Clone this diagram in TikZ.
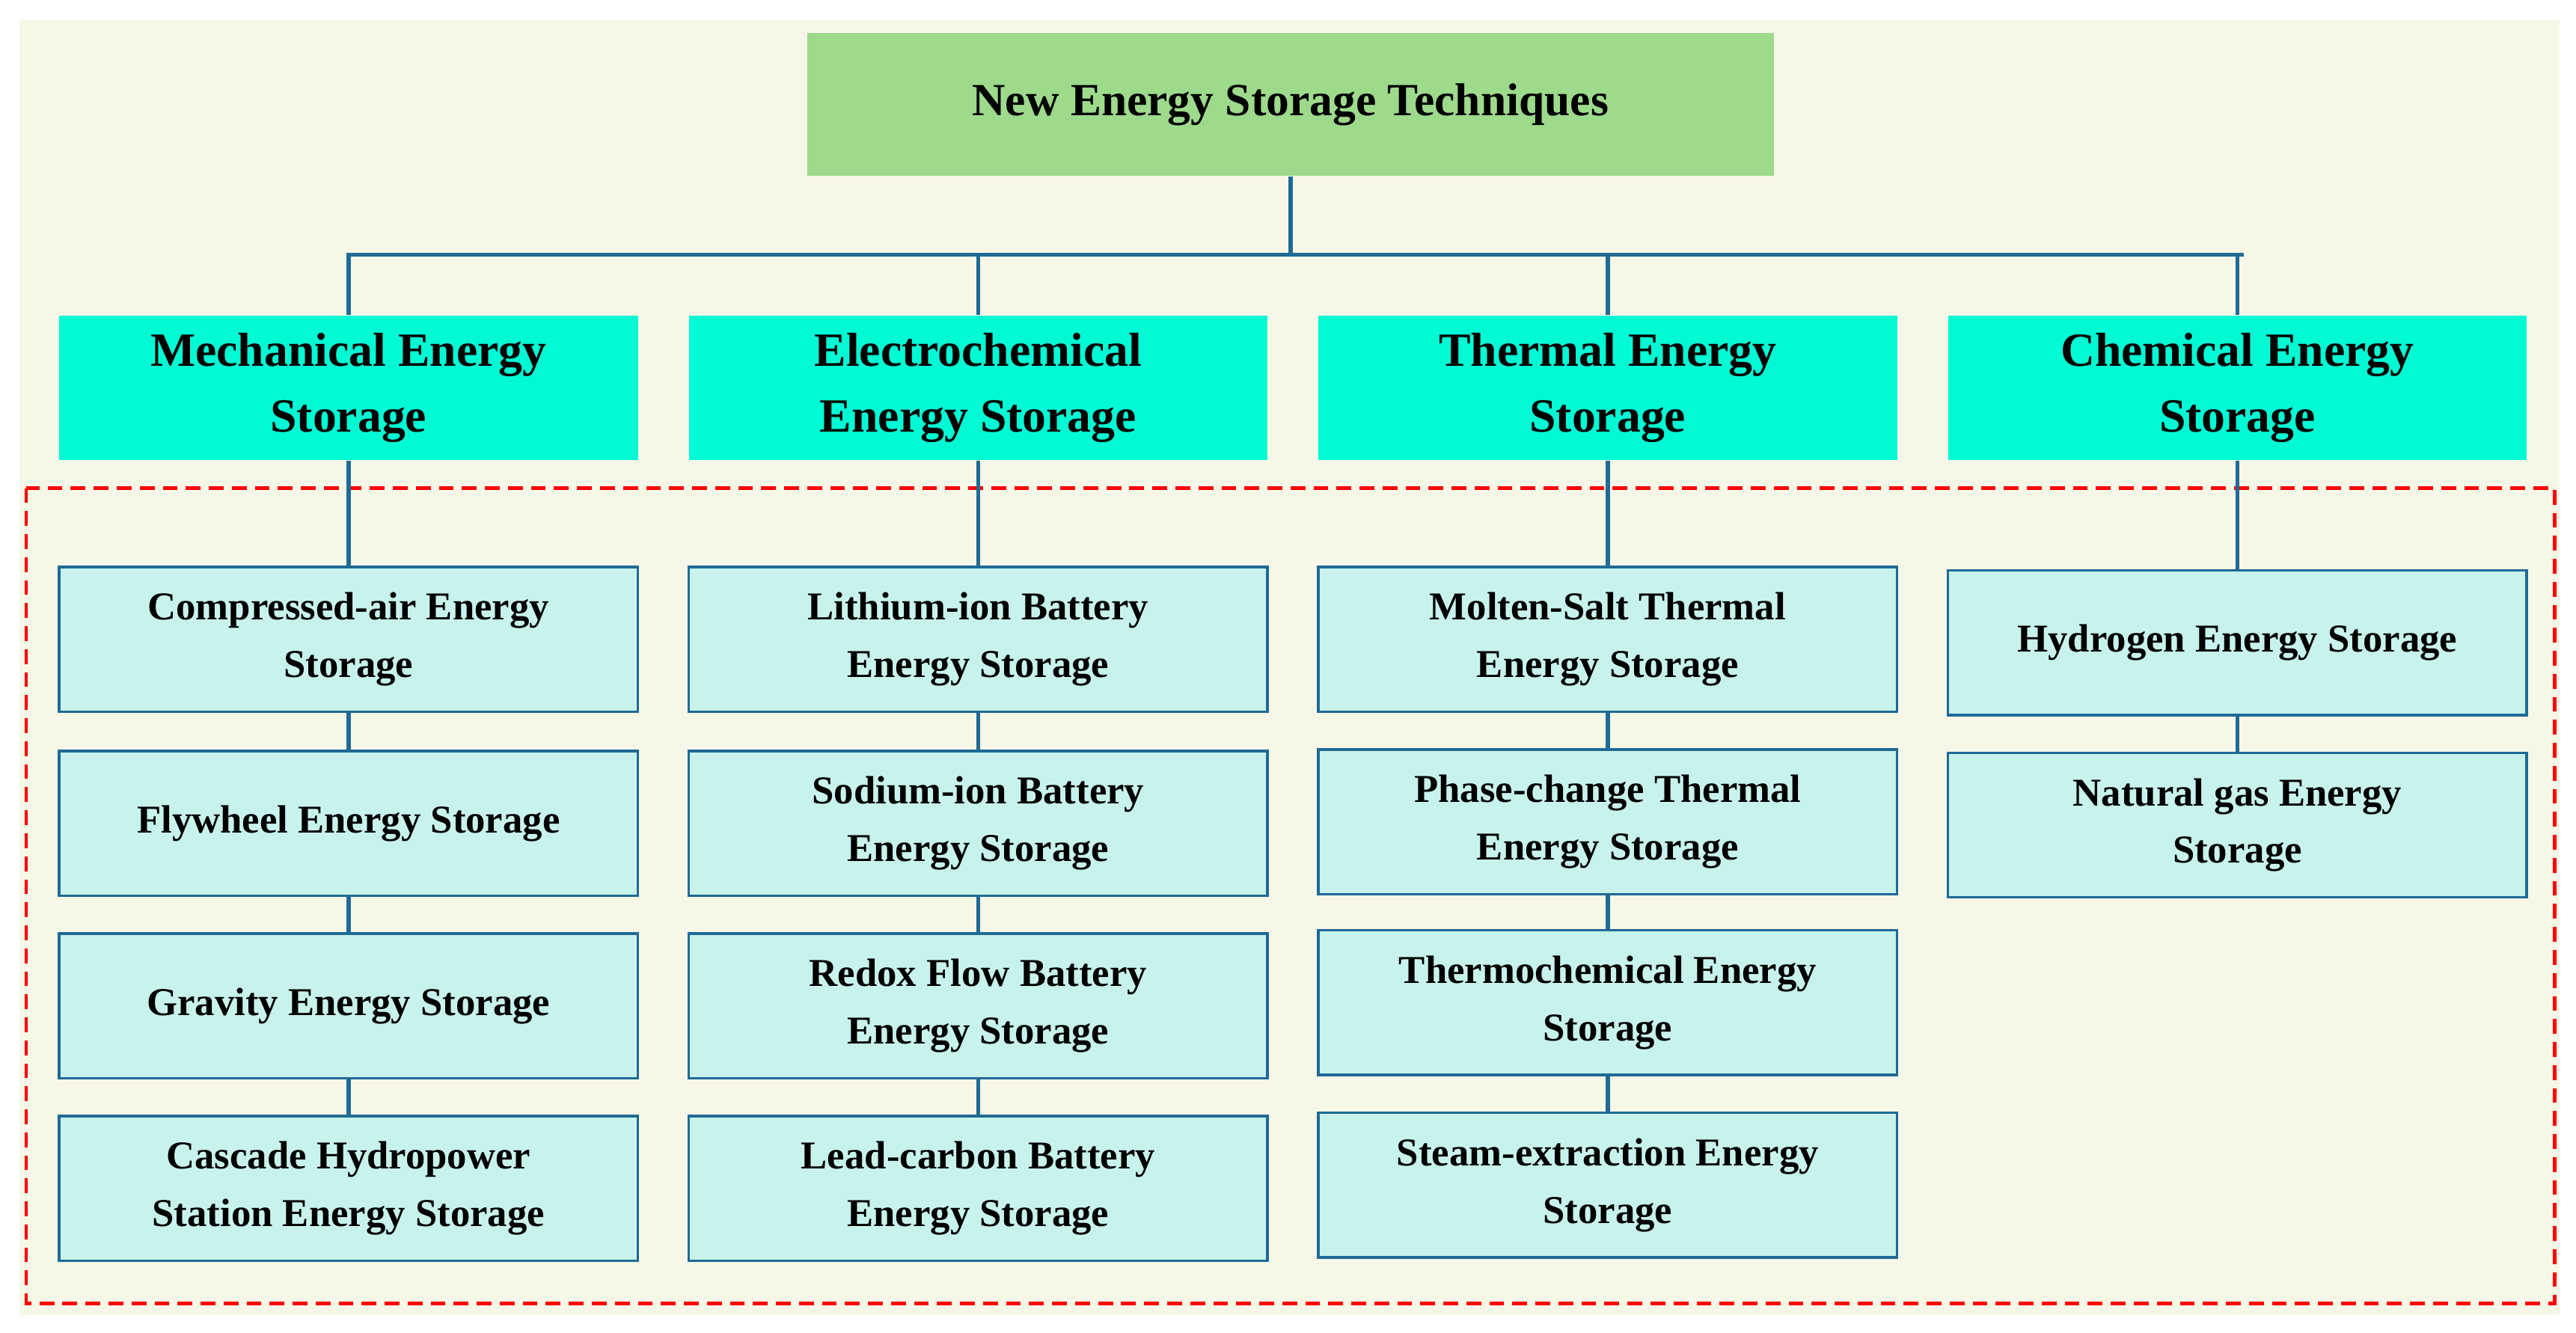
\documentclass[tikz,border=0pt]{standalone}
\usepackage{fontspec}
\setmainfont{Liberation Serif}
\begin{document}
\begin{tikzpicture}[x=1pt,y=-1pt,
  lc/.style={draw=lineblue,line width=2.5pt},
  topbox/.style={fill=topgreen,minimum width=588pt,minimum height=87pt,font=\fontsize{28}{34}\selectfont\bfseries},
  catbox/.style={fill=cataqua,minimum width=352pt,minimum height=88pt,align=center,font=\fontsize{29}{40}\selectfont\bfseries},
  leafbox/.style={fill=leafaqua,draw=lineblue,line width=1.6pt,minimum width=352pt,minimum height=88pt,align=center,font=\fontsize{24}{35}\selectfont\bfseries}]
\definecolor{lineblue}{HTML}{1F6A96}
\definecolor{topgreen}{HTML}{9DDA8C}
\definecolor{cataqua}{HTML}{00FAD4}
\definecolor{leafaqua}{HTML}{C8F3EC}
\definecolor{bgcol}{HTML}{F6F7E7}
\useasboundingbox (0,0) rectangle (1567,811);
\fill[bgcol] (12,12) rectangle (1557,800);
\draw[red,dashed,line width=2pt,dash pattern=on 9pt off 5pt] (16,297) rectangle (1554,793);
\node[topbox] (top) at (785,63.5) {New Energy Storage Techniques};
\node[catbox] (c1) at (212,236) {Mechanical Energy\\Storage};
\node[catbox] (c2) at (595,236) {Electrochemical\\Energy Storage};
\node[catbox] (c3) at (978,236) {Thermal Energy\\Storage};
\node[catbox] (c4) at (1361,236) {Chemical Energy\\Storage};
\coordinate (j) at (785,155);
\draw[lc] (top.south) -- (j);
\draw[lc] (c1.north) -- (212,155) -- (1365,155);
\foreach \c/\x in {c2/595,c3/978,c4/1361}{\draw[lc] (\c.north) -- (\x,155);}
% column 1
\node[leafbox] (a1) at (212,389) {Compressed-air Energy\\Storage};
\node[leafbox] (a2) at (212,501) {Flywheel Energy Storage};
\node[leafbox] (a3) at (212,612) {Gravity Energy Storage};
\node[leafbox] (a4) at (212,723) {Cascade Hydropower\\Station Energy Storage};
\node[leafbox] (b1) at (595,389) {Lithium-ion Battery\\Energy Storage};
\node[leafbox] (b2) at (595,501) {Sodium-ion Battery\\Energy Storage};
\node[leafbox] (b3) at (595,612) {Redox Flow Battery\\Energy Storage};
\node[leafbox] (b4) at (595,723) {Lead-carbon Battery\\Energy Storage};
\node[leafbox] (d1) at (978,389) {Molten-Salt Thermal\\Energy Storage};
\node[leafbox] (d2) at (978,500) {Phase-change Thermal\\Energy Storage};
\node[leafbox] (d3) at (978,610) {Thermochemical Energy\\Storage};
\node[leafbox] (d4) at (978,721) {Steam-extraction Energy\\Storage};
\node[leafbox] (e1) at (1361,391) {Hydrogen Energy Storage};
\node[leafbox] (e2) at (1361,502) {Natural gas Energy\\Storage};
\draw[lc] (c1.south) -- (a1.north) (a1) -- (a2) (a2) -- (a3) (a3) -- (a4);
\draw[lc] (c2.south) -- (b1.north) (b1) -- (b2) (b2) -- (b3) (b3) -- (b4);
\draw[lc] (c3.south) -- (d1.north) (d1) -- (d2) (d2) -- (d3) (d3) -- (d4);
\draw[lc] (c4.south) -- (e1.north) (e1) -- (e2);
\end{tikzpicture}
\end{document}
